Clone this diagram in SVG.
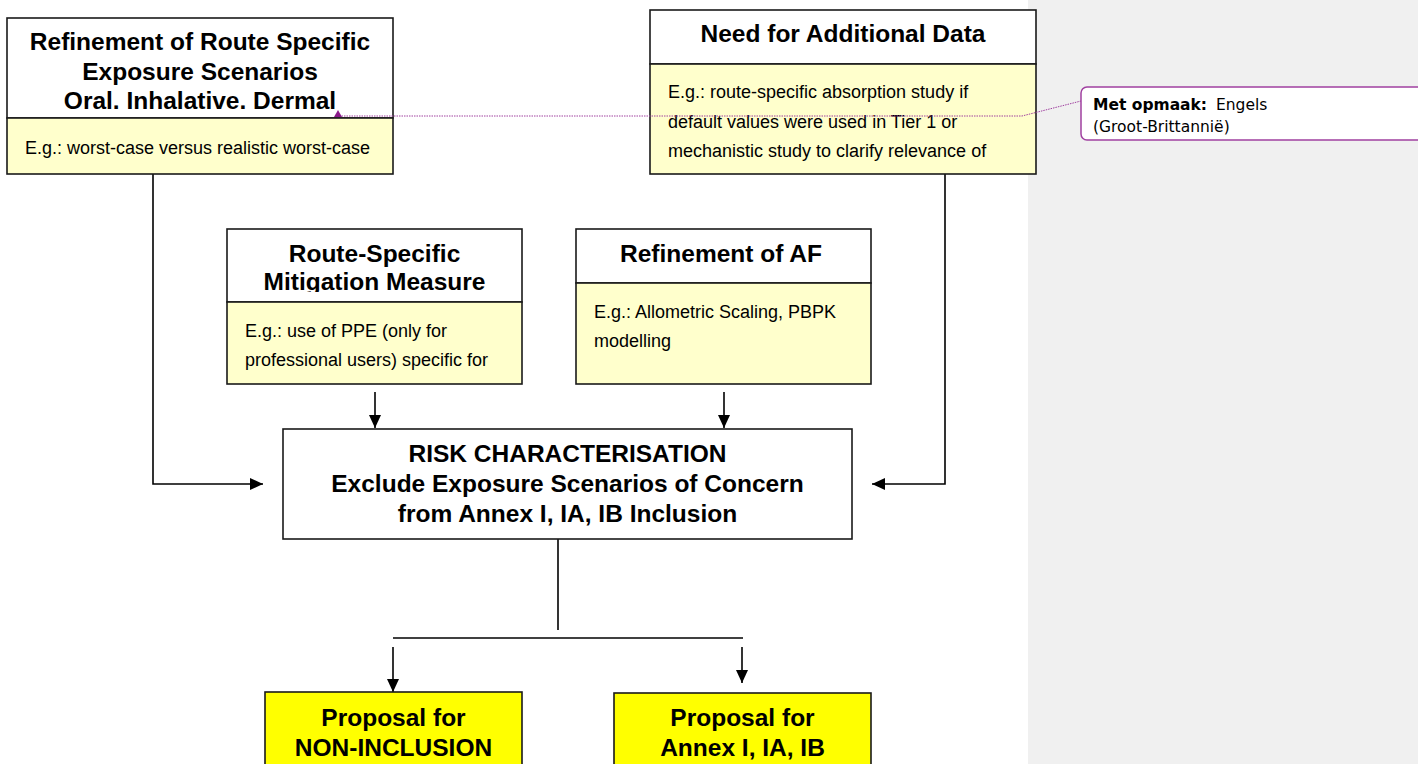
<svg xmlns="http://www.w3.org/2000/svg" width="1418" height="764" viewBox="0 0 1418 764">
<style>
.box{stroke:#1a1a1a;stroke-width:1.6}
.hdr{fill:#ffffff}
.sub{fill:#ffffcc}
.res{fill:#ffff00}
.h{font-family:"Liberation Sans",Arial,sans-serif;font-weight:bold;font-size:24.5px;fill:#000;text-anchor:middle}
.b{font-family:"Liberation Sans",Arial,sans-serif;font-size:18px;fill:#000}
.ln{stroke:#000;stroke-width:1.6;fill:none}
.cm{font-family:"DejaVu Sans",Verdana,sans-serif;font-size:15.5px;fill:#000}
</style>
<defs>
<marker id="ah" markerUnits="userSpaceOnUse" markerWidth="14" markerHeight="12" refX="13" refY="6" orient="auto">
<path d="M0,0 L13,6 L0,12 Z" fill="#000"/>
</marker>
<clipPath id="clipL"><rect x="7" y="18" width="386" height="93"/></clipPath>
<clipPath id="clipR"><rect x="227" y="229" width="295" height="63"/></clipPath>
</defs>
<rect x="0" y="0" width="1418" height="764" fill="#ffffff"/>
<rect x="1028" y="0" width="390" height="764" fill="#f0f0f0"/>

<g id="connectors">
<polyline class="ln" points="153,174 153,484 263,484" marker-end="url(#ah)"/>
<polyline class="ln" points="945,174 945,484 872,484" marker-end="url(#ah)"/>
<line class="ln" x1="375" y1="392" x2="375" y2="428" marker-end="url(#ah)"/>
<line class="ln" x1="724" y1="392" x2="724" y2="428" marker-end="url(#ah)"/>
<line class="ln" x1="558" y1="539" x2="558" y2="630"/>
<line class="ln" x1="393" y1="638" x2="743" y2="638"/>
<line class="ln" x1="393" y1="647" x2="393" y2="692" marker-end="url(#ah)"/>
<line class="ln" x1="742" y1="647" x2="742" y2="683" marker-end="url(#ah)"/>
</g>

<g id="node-refinement-route">
<rect class="box hdr" x="7" y="18" width="386" height="100"/>
<rect class="box sub" x="7" y="118" width="386" height="56"/>
<g clip-path="url(#clipL)">
<text class="h" x="200" y="50">Refinement of Route Specific</text>
<text class="h" x="200" y="80">Exposure Scenarios</text>
<text class="h" x="200" y="109">Oral. Inhalative. Dermal</text>
</g>
<text class="b" x="25" y="154">E.g.: worst-case versus realistic worst-case</text>
</g>

<g id="node-additional-data">
<rect class="box hdr" x="650" y="10" width="386" height="54"/>
<rect class="box sub" x="650" y="64" width="386" height="110"/>
<text class="h" x="843" y="42">Need for Additional Data</text>
<text class="b" x="668" y="98">E.g.: route-specific absorption study if</text>
<text class="b" x="668" y="128">default values were used in Tier 1 or</text>
<text class="b" x="668" y="157">mechanistic study to clarify relevance of</text>
</g>

<g id="node-mitigation">
<rect class="box hdr" x="227" y="229" width="295" height="73"/>
<rect class="box sub" x="227" y="302" width="295" height="82"/>
<g clip-path="url(#clipR)">
<text class="h" x="374.5" y="262">Route-Specific</text>
<text class="h" x="374.5" y="290">Mitigation Measure</text>
</g>
<text class="b" x="245" y="337">E.g.: use of PPE (only for</text>
<text class="b" x="245" y="366">professional users) specific for</text>
</g>

<g id="node-af">
<rect class="box hdr" x="576" y="229" width="295" height="54"/>
<rect class="box sub" x="576" y="283" width="295" height="101"/>
<text class="h" x="721" y="262">Refinement of AF</text>
<text class="b" x="594" y="318">E.g.: Allometric Scaling, PBPK</text>
<text class="b" x="594" y="347">modelling</text>
</g>

<g id="node-risk">
<rect class="box hdr" x="283" y="429" width="569" height="110"/>
<text class="h" x="567.5" y="462">RISK CHARACTERISATION</text>
<text class="h" x="567.5" y="492">Exclude Exposure Scenarios of Concern</text>
<text class="h" x="567.5" y="522">from Annex I, IA, IB Inclusion</text>
</g>

<g id="node-non-inclusion">
<rect class="box res" x="265" y="692" width="257" height="90"/>
<text class="h" x="393.5" y="726">Proposal for</text>
<text class="h" x="393.5" y="756">NON-INCLUSION</text>
</g>

<g id="node-annex">
<rect class="box res" x="614" y="693" width="257" height="90"/>
<text class="h" x="742.5" y="726">Proposal for</text>
<text class="h" x="742.5" y="756">Annex I, IA, IB</text>
</g>

<g id="comment">
<polyline points="339,116 1022,116 1081,101" fill="none" stroke="#a040a0" stroke-width="1" stroke-dasharray="1.5 1"/>
<path d="M334,117 L338,110 L342,117 Z" fill="#8a1a8a"/>
<rect x="1081" y="87" width="345" height="53" rx="6" fill="#ffffff" stroke="#a040a0" stroke-width="1.5"/>
<text class="cm" x="1093" y="110"><tspan font-weight="bold">Met opmaak:</tspan><tspan x="1216">Engels</tspan></text>
<text class="cm" x="1093" y="132">(Groot-Brittannië)</text>
</g>
</svg>
